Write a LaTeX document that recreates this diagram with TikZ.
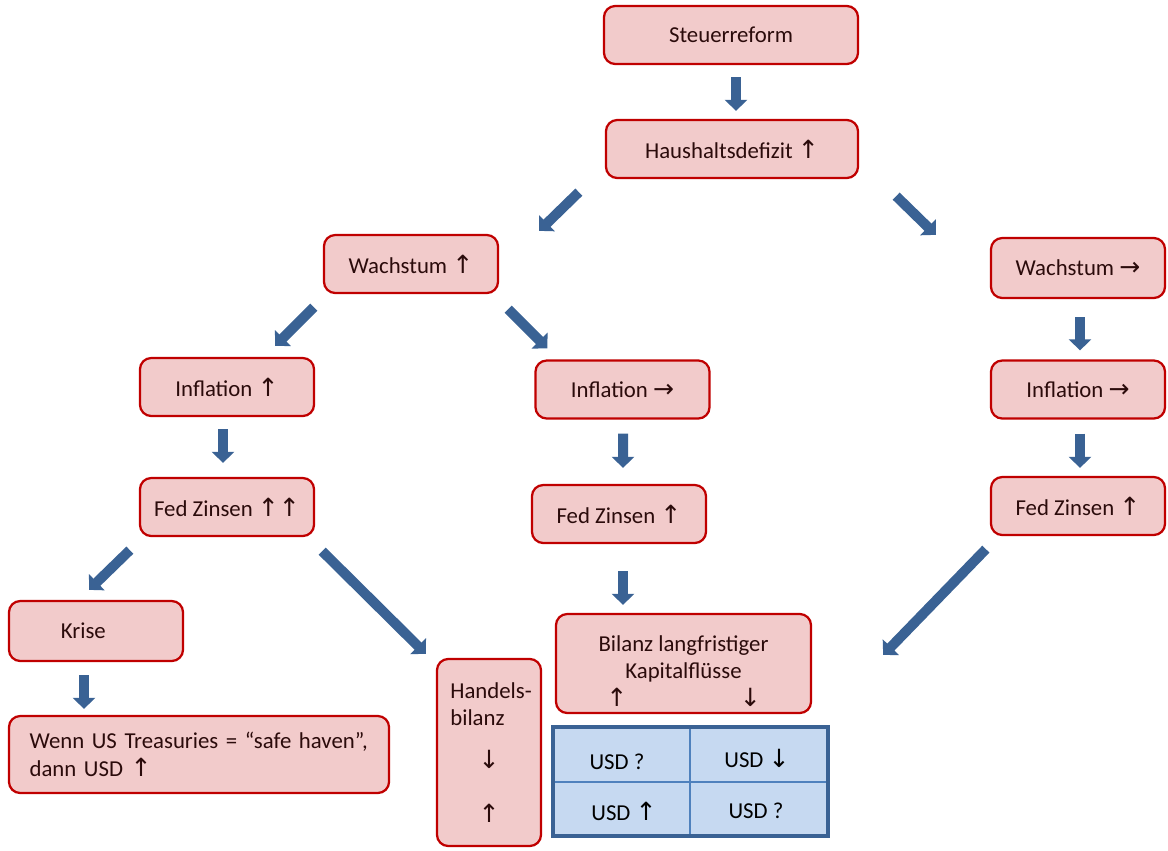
\documentclass[tikz,border=0pt]{standalone}
\usepackage{fontspec}
\setmainfont{Carlito}
\newfontfamily\arrfont[Scale=1.1]{DejaVu Sans}
\usetikzlibrary{arrows.meta,calc}
\definecolor{INK}{HTML}{2B0B0B}
\definecolor{BOXFILL}{HTML}{F2CBCB}
\definecolor{BOXLINE}{HTML}{C00000}
\definecolor{BLUE}{HTML}{3A6294}
\definecolor{TABFILL}{HTML}{C6D9F1}
\definecolor{TABLINE}{HTML}{4F81BD}
\newcommand{\boxfont}{\fontsize{16.2}{19.5}\selectfont}
\newcommand{\arrUp}{{\arrfont ↑}}
\newcommand{\arrDn}{{\arrfont ↓}}
\newcommand{\arrRt}{{\arrfont →}}

\begin{document}
\begin{tikzpicture}[x=0.025cm,y=-0.025cm]
\tikzset{box/.style={draw=BOXLINE,fill=BOXFILL,line width=1.6pt,rounded corners=8pt,text=INK,minimum width=4.35cm,minimum height=1.45cm,font=\boxfont},
 blk/.style={BLUE,line width=7.1pt,-{Triangle[width=15.6pt,length=7.8pt]}},
 cell/.style={text=black,font=\boxfont}}
\useasboundingbox (0,0) rectangle (1168,850);
% boxes
\node[box,minimum width=6.35cm] (steuer) at (731,35) {Steuerreform};
\node[box,minimum width=6.3cm] (haus) at (732,149) {Haushaltsdefizit \arrUp};
\node[box] (wachsL) at (411,264) {Wachstum \arrUp};
\node[box,minimum height=1.5cm] (wachsR) at (1078,268) {Wachstum \arrRt};
\node[box] (inflL) at (227,387) {Inflation \arrUp};
\node[box] (inflM) at (622.5,389.5) {Inflation \arrRt};
\node[box] (inflR) at (1078,389.5) {Inflation \arrRt};
\node[box] (fedL) at (227,507) {Fed Zinsen \arrUp\arrUp};
\node[box] (fedM) at (619,514) {Fed Zinsen \arrUp};
\node[box] (fedR) at (1078,506) {Fed Zinsen \arrUp};
\node[box,minimum height=1.5cm] (krise) at (96,631) {Krise\hspace*{18pt}};
\node[box,minimum width=9.5cm,minimum height=1.925cm,text width=241pt,inner xsep=14pt,align=left] (wenn) at (199,754.5) {Wenn US Treasuries = “safe haven”,\\dann USD \arrUp};
\node[box,minimum width=2.6cm,minimum height=4.675cm,text width=55pt,inner xsep=9.2pt,align=left] (handel) at (489,752.5) {\mbox{Handels-}\\bilanz\\[11pt]\makebox[\linewidth]{\arrDn}\\[19pt]\makebox[\linewidth]{\arrUp}};
\node[box,minimum width=6.375cm,minimum height=2.475cm,align=center] (bilanz) at (683.5,663.5) {\rule{0pt}{22pt}Bilanz langfristiger\\Kapitalflüsse\\\arrUp\hspace{80pt}\arrDn};
% table
\fill[TABFILL] (553,727) rectangle (828,836);
\draw[TABLINE,line width=1.4pt] (690,727) -- (690,836) (553,782) -- (828,782);
\draw[BLUE,line width=3.5pt] (553,727) rectangle (828,836);
\node[cell] (usdA) at (617,762) {USD ?};
\node[cell] (usdB) at (757,758) {USD \arrDn};
\node[cell] (usdC) at (624,811) {USD \arrUp};
\node[cell] (usdD) at (756,811) {USD ?};
% block arrows
\draw[blk] ($(steuer.south)+(5,12)$) -- ($(haus.north)+(4,-8)$);
\draw[blk] ($(haus.south west)+(-26,13)$) -- ($(wachsL.north east)+(40,-3)$);
\draw[blk] ($(haus.south east)+(37,17)$) -- ($(wachsR.north west)+(-54,-2)$);
\draw[blk] ($(wachsL.south west)+(-9,13)$) -- ($(inflL.north east)+(-40,-11)$);
\draw[blk] ($(wachsL.south east)+(9,15)$) -- ($(inflM.north west)+(13,-11)$);
\draw[blk] ($(wachsR.south)+(2,18)$) -- ($(inflR.north)+(2,-9)$);
\draw[blk] ($(inflL.south)+(-4,12)$) -- ($(fedL.north)+(-4,-14)$);
\draw[blk] ($(inflM.south)+(0.5,14)$) -- ($(fedM.north)+(4,-16)$);
\draw[blk] ($(inflR.south)+(2,14)$) -- ($(fedR.north)+(2,-8)$);
\draw[blk] ($(fedL.south west)+(-9,13)$) -- ($(krise.north)+(-7,-10)$);
\draw[blk] ($(fedL.south east)+(7,14)$) -- ($(handel.north west)+(-10,-4)$);
\draw[blk] ($(fedM.south)+(4,27)$) -- ($(bilanz.north)+(-60.5,-8)$);
\draw[blk] ($(fedR.south west)+(-4,13)$) -- ($(bilanz.east)+(71,-8.5)$);
\draw[blk] ($(krise.south)+(-12,13)$) -- ($(wenn.north)+(-115,-6)$);
\end{tikzpicture}
\end{document}
